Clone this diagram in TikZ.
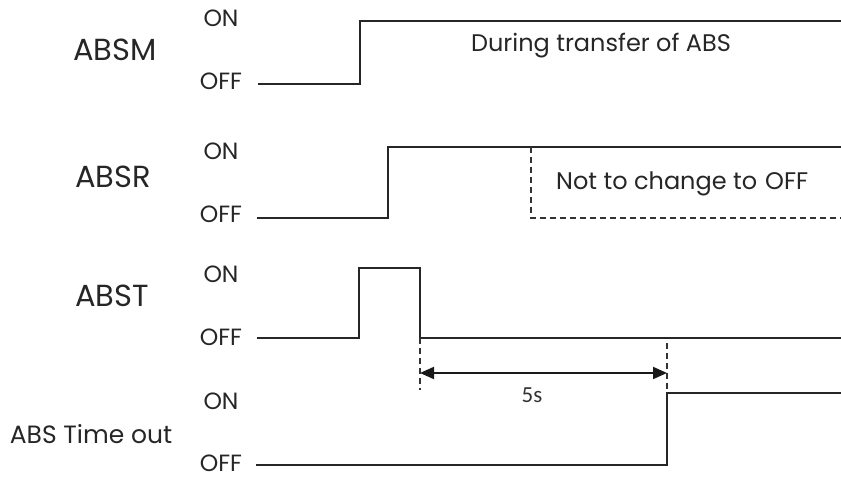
\documentclass[tikz,border=0pt]{standalone}
\usepackage{fontspec}
\setmainfont{Poppins}
\newfontfamily\numfont{Carlito}
\usetikzlibrary{arrows.meta}
\begin{document}
\begin{tikzpicture}[x=1pt,y=-1pt,
  sig/.style={draw=black!85,line width=2pt,line join=miter},
  dsh/.style={draw=black!80,line width=1.7pt,dash pattern=on 6pt off 4pt},
  signame/.style={font=\fontsize{30.5}{32}\selectfont,text=black!85,inner sep=0pt},
  lvl/.style={font=\fontsize{23.5}{24}\selectfont,text=black!85,inner sep=0pt},
  note/.style={font=\fontsize{24}{25}\selectfont,text=black!85,inner sep=0pt},
  dim/.style={draw=black!90,line width=2pt,{Triangle[length=14pt,width=12pt]}-{Triangle[length=14pt,width=12pt]}}]
\useasboundingbox (0,0) rectangle (841,478);
% signal names
\node[signame] (nM) at (115,50) {ABSM};
\node[signame] (nR) at (113,177) {ABSR};
\node[signame] (nT) at (112,296) {ABST};
\node[lvl,font=\fontsize{25}{26}\selectfont] (nO) at (91,434) {ABS Time out};
% levels
\node[lvl] (onM) at (221,18) {ON};   \node[lvl] (offM) at (221,81) {OFF};
\node[lvl] (onR) at (221,151) {ON};  \node[lvl] (offR) at (221,214) {OFF};
\node[lvl] (onT) at (221,274) {ON};  \node[lvl] (offT) at (221,337) {OFF};
\node[lvl] (onO) at (221,401) {ON};  \node[lvl] (offO) at (221,463) {OFF};
% ABSM
\coordinate (m0) at (258,84); \coordinate (m1) at (360,84); \coordinate (m2) at (360,21); \coordinate (m3) at (841,21);
\draw[sig] (m0) -- (m1) -- (m2) -- (m3);
\node[note,anchor=base] (tM) at (601,52) {During transfer of ABS};
% ABSR
\coordinate (r0) at (257,218); \coordinate (r1) at (388,218); \coordinate (r2) at (388,147); \coordinate (r3) at (841,147);
\draw[sig] (r0) -- (r1) -- (r2) -- (r3);
\coordinate (d0) at (531,147); \coordinate (d1) at (531,218); \coordinate (d2) at (841,218);
\draw[dsh] (d0) -- (d1) -- (d2);
\node[note,anchor=base west] (tR) at (556,190) {Not to change to\hspace{8pt}OFF};
% ABST
\coordinate (t0) at (257,338); \coordinate (t1) at (359,338); \coordinate (t2) at (359,268); \coordinate (t3) at (420,268);
\coordinate (t4) at (420,338); \coordinate (t5) at (841,338);
\draw[sig] (t0) -- (t1) -- (t2) -- (t3) -- (t4) -- (t5);
% ABS Time out
\coordinate (o0) at (256,465); \coordinate (o1) at (667,465); \coordinate (o2) at (667,393); \coordinate (o3) at (841,393);
\draw[sig] (o0) -- (o1) -- (o2) -- (o3);
% 5s dimension
\coordinate (g0) at (420,390); \coordinate (g1) at (667,343);
\draw[dsh] (t4) -- (g0);
\draw[dsh] (g1) -- (o2);
\coordinate (a0) at (420,373); \coordinate (a1) at (667,373);
\draw[dim] (a0) -- (a1);
\node[font=\numfont\fontsize{23}{24}\selectfont,text=black!80,inner sep=0pt] (t5s) at (532,395) {5s};
\end{tikzpicture}
\end{document}
